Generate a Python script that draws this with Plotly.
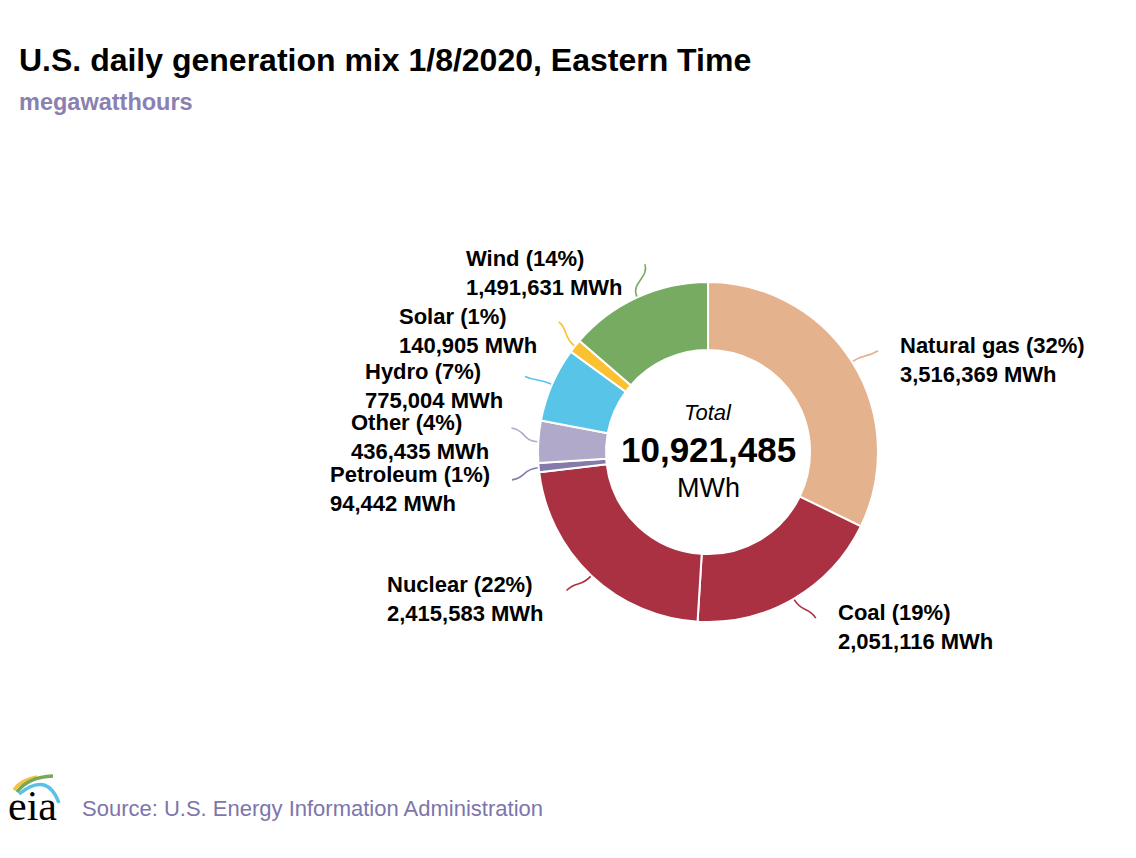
import math
import plotly.graph_objects as go

# ---------------- data ----------------
sources = ["Natural gas", "Coal", "Nuclear", "Petroleum", "Other", "Hydro", "Solar", "Wind"]
mwh = [3516369, 2051116, 2415583, 94442, 436435, 775004, 140905, 1491631]
colors = ["#E4B38E", "#AA3142", "#AA3142", "#857AA9", "#B0A9C9", "#58C5E8", "#FBC133", "#78AB62"]

title_text = "U.S. daily generation mix 1/8/2020, Eastern Time"
subtitle_text = "megawatthours"
source_text = "Source: U.S. Energy Information Administration"

# label placement nudges (degrees) to keep labels apart
label_nudge_deg = [1.3, -2.7, 2.3, -2.8, 3.5, -1.0, 2.6, 6.0]

# ---------------- geometry helpers ----------------
W, H = 1136, 858
OFF = 8  # page body margin
CX, CY, R_OUT = 708, 452, 170
HOLE = 0.6
FONT = "Liberation Sans, Arial, Helvetica, sans-serif"


def px(x):
    return (x - OFF) / W


def py(y):
    return 1 - (y - OFF) / H


def polar(r, deg):
    a = math.radians(deg)
    return CX + r * math.sin(a), CY - r * math.cos(a)


total = sum(mwh)

fig = go.Figure()
fig.add_trace(go.Pie(
    labels=sources,
    values=mwh,
    hole=HOLE,
    sort=False,
    direction="clockwise",
    rotation=0,
    textinfo="none",
    marker=dict(colors=colors, line=dict(color="white", width=2)),
    domain=dict(x=[px(CX - R_OUT), px(CX + R_OUT)], y=[py(CY + R_OUT), py(CY - R_OUT)]),
    showlegend=False,
    hovertemplate="%{label}: %{value:,} MWh<extra></extra>",
))

shapes = []
annotations = []
cum = 0
for name, v, col, nudge in zip(sources, mwh, colors, label_nudge_deg):
    mid = (cum + v / 2) / total * 360
    cum += v
    end_ang = mid + nudge
    x0, y0 = polar(R_OUT + 1, mid)
    x1, y1 = polar(R_OUT + 16, mid)
    x2, y2 = polar(R_OUT + 14, end_ang)
    x3, y3 = polar(R_OUT + 28, end_ang)
    shapes.append(dict(
        type="path", xref="paper", yref="paper",
        path=f"M {px(x0)},{py(y0)} C {px(x1)},{py(y1)} {px(x2)},{py(y2)} {px(x3)},{py(y3)}",
        line=dict(color=col, width=1.6),
    ))
    pct = round(v / total * 100)
    right = x3 > CX
    annotations.append(dict(
        xref="paper", yref="paper",
        x=px(x3 + 20 if right else x3 - 20), y=py(y3 + 9),
        xanchor="left" if right else "right", yanchor="middle", align="left",
        text=f"<b>{name} ({pct}%)</b><br><b>{v:,} MWh</b>",
        showarrow=False,
        font=dict(family=FONT, size=22, color="black"),
    ))

# centre total
annotations += [
    dict(xref="paper", yref="paper", x=px(CX), y=py(412), text="<i>Total</i>", showarrow=False,
         xanchor="center", yanchor="middle", font=dict(family=FONT, size=22, color="black")),
    dict(xref="paper", yref="paper", x=px(CX), y=py(449), text=f"<b>{total:,}</b>", showarrow=False,
         xanchor="center", yanchor="middle", font=dict(family=FONT, size=35, color="black")),
    dict(xref="paper", yref="paper", x=px(CX), y=py(488), text="MWh", showarrow=False,
         xanchor="center", yanchor="middle", font=dict(family=FONT, size=27, color="black")),
]

# title, subtitle, source
annotations += [
    dict(xref="paper", yref="paper", x=px(17), y=py(60), text=f"<b>{title_text}</b>", showarrow=False,
         xanchor="left", yanchor="middle", font=dict(family=FONT, size=32, color="black")),
    dict(xref="paper", yref="paper", x=px(17), y=py(102), text=f"<b>{subtitle_text}</b>", showarrow=False,
         xanchor="left", yanchor="middle", font=dict(family=FONT, size=23.5, color="#8A80B2")),
    dict(xref="paper", yref="paper", x=px(80), y=py(808), text=source_text, showarrow=False,
         xanchor="left", yanchor="middle", font=dict(family=FONT, size=22, color="#7D75AC")),
    dict(xref="paper", yref="paper", x=px(6), y=py(806), text="eia", showarrow=False,
         xanchor="left", yanchor="middle",
         font=dict(family="Liberation Serif, Times New Roman, serif", size=42, color="black")),
]

# eia logo swooshes
def logo_path(pts):
    (a, b), (c, d), (e, f) = pts
    return f"M {px(a)},{py(b)} Q {px(c)},{py(d)} {px(e)},{py(f)}"

shapes += [
    dict(type="path", xref="paper", yref="paper", path=logo_path([(14, 790), (20, 780), (37, 777)]),
         line=dict(color="#F3C245", width=3.5)),
    dict(type="path", xref="paper", yref="paper", path=logo_path([(17, 792), (28, 777), (53, 776)]),
         line=dict(color="#76A856", width=3.5)),
    dict(type="path", xref="paper", yref="paper", path=logo_path([(19, 794), (47, 771), (59, 803)]),
         line=dict(color="#5BC2E7", width=3.5)),
]

fig.update_layout(
    width=W, height=H,
    margin=dict(l=0, r=0, t=0, b=0),
    paper_bgcolor="white", plot_bgcolor="white",
    shapes=shapes, annotations=annotations,
    showlegend=False,
)

fig.write_html("out.html")
